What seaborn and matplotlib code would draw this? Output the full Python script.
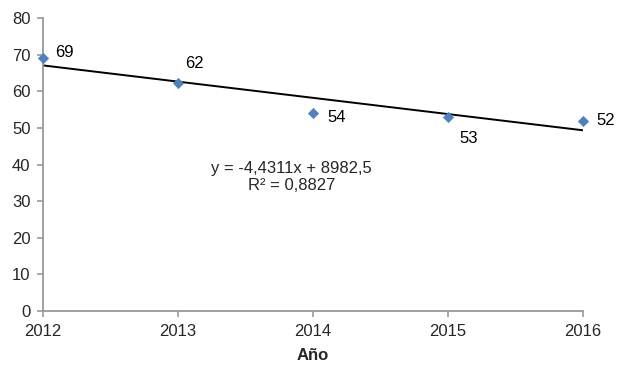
import numpy as np
import pandas as pd
import matplotlib
matplotlib.use("Agg")
import matplotlib.pyplot as plt
import seaborn as sns

# data
years = [2012, 2013, 2014, 2015, 2016]
values = [69.2, 62.4, 54.1, 52.9, 52.0]
labels = ["69", "62", "54", "53", "52"]
# label offsets (points) relative to each marker
label_dx = [15.6, 12.2, 17, 15, 16.3]
label_dy = [3.6, 13.9, -3.5, -14.9, 0]

slope, intercept = -4.4311, 8982.5
equation = "y = -4,4311x + 8982,5\nR² = 0,8827"

sns.set_theme(style="white")
plt.rcParams["font.family"] = ["Liberation Sans", "DejaVu Sans"]

df = pd.DataFrame({"Año": years, "valor": values})
trend = pd.DataFrame({"Año": years,
                      "valor": [slope * x + intercept for x in years]})

fig, ax = plt.subplots(figsize=(6.2, 3.85), dpi=100)
fig.subplots_adjust(left=0.0694, right=0.940, bottom=0.192, top=0.9525)

sns.lineplot(data=trend, x="Año", y="valor", color="black", linewidth=1.4, ax=ax)
sns.scatterplot(data=df, x="Año", y="valor", marker="D", s=28,
                color="#4F81BD", edgecolor="#4F81BD", zorder=3, ax=ax,
                clip_on=False)

for x, y, t, dx, dy in zip(years, values, labels, label_dx, label_dy):
    ax.annotate(t, (x, y), xytext=(dx, dy), textcoords="offset points",
                ha="center", va="center", fontsize=12, color="black")

ax.text(2013.84, 36.6, equation, ha="center", va="center", fontsize=12,
        linespacing=1.2, multialignment="center")

ax.set_xlim(2012, 2016)
ax.set_ylim(0, 80)
ax.set_xticks(years)
ax.set_yticks(range(0, 81, 10))
ax.set_xlabel("Año", fontsize=12, fontweight="bold", labelpad=7)
ax.set_ylabel("")
sns.despine(ax=ax)
for s in ("left", "bottom"):
    ax.spines[s].set_color("#999999")
    ax.spines[s].set_linewidth(1.3)
ax.tick_params(axis="both", which="major", labelsize=12, length=4,
               width=1.2, color="#999999", direction="out", pad=5,
               bottom=True, left=True)

fig.savefig("out.png", dpi=100, facecolor="white")
